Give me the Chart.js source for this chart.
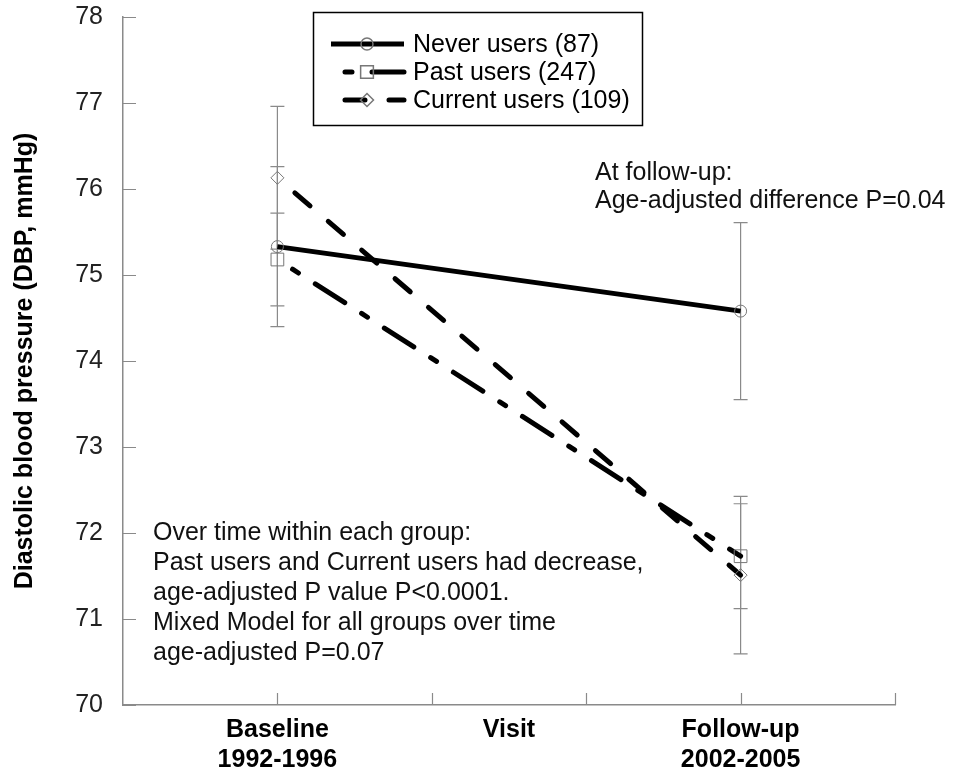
<!DOCTYPE html>
<html>
<head>
<meta charset="utf-8">
<script src="https://cdn.jsdelivr.net/npm/chart.js@4/dist/chart.umd.min.js"></script>
<style>
  body { margin: 0; background: #fff; }
</style>
</head>
<body>
<canvas id="dbpChart" width="957" height="773"></canvas>
<script>
// visit positions on the x axis (0..5) and their labels
const visitX = [1, 4];
const visitLabels = [['Baseline', '1992-1996'], ['Follow-up', '2002-2005']];
const axisTitleX = 'Visit';

const seriesNames = ['Never users (87)', 'Past users (247)', 'Current users (109)'];
const neverUsers = [75.33, 74.58];
const pastUsers = [75.18, 71.73];
const currentUsers = [76.13, 71.51];
// half-width of the error bars
const neverErr = [0.93, 1.03];
const pastErr = [0.54, 0.61];
const currentErr = [0.83, 0.915];

const yMin = 70, yMax = 78;

const noteFollowUp = ['At follow-up:', 'Age-adjusted difference P=0.04'];
const noteOverTime = [
  'Over time within each group:',
  'Past users and Current users had decrease,',
  'age-adjusted P value P<0.0001.',
  'Mixed Model for all groups over time',
  'age-adjusted P=0.07'
];

const FONT = '"Liberation Sans", Arial, sans-serif';
const GREY = '#8a8a8a';

const toPoints = (vals) => vals.map((v, i) => ({ x: visitX[i], y: v }));
const errors = [neverErr, pastErr, currentErr];

// error bars under the lines
const errorBars = {
  id: 'errorBars',
  beforeDatasetsDraw(chart) {
    const { ctx, scales: { x, y } } = chart;
    ctx.save();
    ctx.strokeStyle = GREY;
    ctx.lineWidth = 1.2;
    chart.data.datasets.forEach((ds, i) => {
      ds.data.forEach((p, j) => {
        const px = x.getPixelForValue(p.x);
        const top = y.getPixelForValue(p.y + errors[i][j]);
        const bot = y.getPixelForValue(p.y - errors[i][j]);
        ctx.beginPath();
        ctx.moveTo(px, top); ctx.lineTo(px, bot);
        ctx.moveTo(px - 7, top); ctx.lineTo(px + 7, top);
        ctx.moveTo(px - 7, bot); ctx.lineTo(px + 7, bot);
        ctx.stroke();
      });
    });
    ctx.restore();
  }
};

// tick marks pointing into the plot, legend box, notes
const extras = {
  id: 'extras',
  afterDraw(chart) {
    const { ctx, chartArea: a, scales: { x, y } } = chart;
    ctx.save();
    ctx.strokeStyle = GREY;
    ctx.lineWidth = 1.2;
    ctx.beginPath();
    y.ticks.forEach(t => {
      const py = Math.round(y.getPixelForValue(t.value)) + 0.5;
      ctx.moveTo(a.left, py); ctx.lineTo(a.left + 13, py);
    });
    x.ticks.forEach(t => {
      if (t.value === x.min) return;
      const px = Math.round(x.getPixelForValue(t.value)) + 0.5;
      ctx.moveTo(px, a.bottom); ctx.lineTo(px, a.bottom - 12);
    });
    ctx.stroke();

    // x axis word between the two visits
    ctx.fillStyle = '#000';
    ctx.font = 'bold 25px ' + FONT;
    ctx.textAlign = 'center';
    ctx.textBaseline = 'middle';
    ctx.fillText(axisTitleX, x.getPixelForValue((x.min + x.max) / 2), 730);

    // legend
    ctx.strokeStyle = '#000';
    ctx.lineWidth = 1.5;
    ctx.strokeRect(313.5, 12.5, 329, 113);
    chart.data.datasets.forEach((ds, i) => {
      const ly = 44 + i * 28;
      const x0 = ds.borderDash ? 345 : 331;
      ctx.save();
      ctx.strokeStyle = ds.borderColor;
      ctx.lineWidth = ds.borderWidth;
      ctx.lineCap = ds.borderCapStyle || 'butt';
      ctx.setLineDash(ds.borderDash || []);
      ctx.beginPath();
      ctx.moveTo(x0, ly); ctx.lineTo(404, ly);
      ctx.stroke();
      ctx.restore();
      ctx.save();
      ctx.strokeStyle = ds.pointBorderColor;
      ctx.fillStyle = 'rgba(0,0,0,0)';
      Chart.helpers.drawPoint(ctx, {
        pointStyle: ds.pointStyle, radius: ds.pointRadius, borderWidth: 1, rotation: 0
      }, 367, ly);
      ctx.restore();
      ctx.fillStyle = '#000';
      ctx.font = '25px ' + FONT;
      ctx.textAlign = 'left';
      ctx.textBaseline = 'middle';
      ctx.fillText(ds.label, 413, ly + 1);
    });

    // notes
    ctx.fillStyle = '#111';
    ctx.font = '25px ' + FONT;
    ctx.textAlign = 'left';
    ctx.textBaseline = 'alphabetic';
    noteFollowUp.forEach((s, i) => ctx.fillText(s, 595, 180 + i * 28));
    noteOverTime.forEach((s, i) => ctx.fillText(s, 153, 540 + i * 30));
    ctx.restore();
  }
};

new Chart(document.getElementById('dbpChart'), {
  type: 'line',
  data: {
    datasets: [
      {
        label: seriesNames[0],
        data: toPoints(neverUsers),
        borderColor: '#000',
        borderWidth: 5,
        pointStyle: 'circle',
        pointRadius: 6
      },
      {
        label: seriesNames[1],
        data: toPoints(pastUsers),
        borderColor: '#000',
        borderWidth: 5,
        borderCapStyle: 'round',
        borderDash: [7, 20, 35, 20],
        borderDashOffset: 64,
        pointStyle: 'rect',
        pointRadius: 9
      },
      {
        label: seriesNames[2],
        data: toPoints(currentUsers),
        borderColor: '#000',
        borderWidth: 5,
        borderCapStyle: 'round',
        borderDash: [20, 24],
        borderDashOffset: 21,
        pointStyle: 'rectRot',
        pointRadius: 6.5
      }
    ].map(ds => Object.assign(ds, {
      pointBorderColor: '#777',
      pointBackgroundColor: 'rgba(0,0,0,0)',
      pointBorderWidth: 1,
      pointHoverRadius: ds.pointRadius,
      tension: 0
    }))
  },
  options: {
    responsive: false,
    animation: false,
    events: [],
    layout: { padding: { top: 0, right: 62, left: 0, bottom: 0 } },
    plugins: {
      legend: { display: false },
      tooltip: { enabled: false }
    },
    scales: {
      x: {
        type: 'linear',
        min: 0,
        max: 5,
        border: { display: true, color: GREY, width: 1.5 },
        grid: { display: true, drawOnChartArea: false, drawTicks: false },
        ticks: {
          stepSize: 1,
          autoSkip: false,
          maxRotation: 0,
          padding: 10,
          color: '#000',
          font: { family: FONT, size: 25, weight: 'bold', lineHeight: 1.2 },
          callback: (v) => {
            const k = visitX.indexOf(v);
            return k >= 0 ? visitLabels[k] : '';
          }
        },
        afterFit: (s) => { s.height = 68; }
      },
      y: {
        min: yMin,
        max: yMax,
        border: { display: true, color: GREY, width: 1.5 },
        grid: { display: true, drawOnChartArea: false, drawTicks: false },
        ticks: {
          stepSize: 1,
          padding: 20,
          color: '#222',
          font: { family: FONT, size: 25 }
        },
        title: {
          display: true,
          text: 'Diastolic blood pressure (DBP, mmHg)',
          color: '#000',
          font: { family: FONT, size: 25, weight: 'bold' },
          padding: { top: 10, bottom: 0 }
        },
        afterFit: (s) => {
          s.width = 123;
          s.paddingTop = 17;
          s.paddingBottom = 0;
        }
      }
    }
  },
  plugins: [errorBars, extras]
});
</script>
</body>
</html>
